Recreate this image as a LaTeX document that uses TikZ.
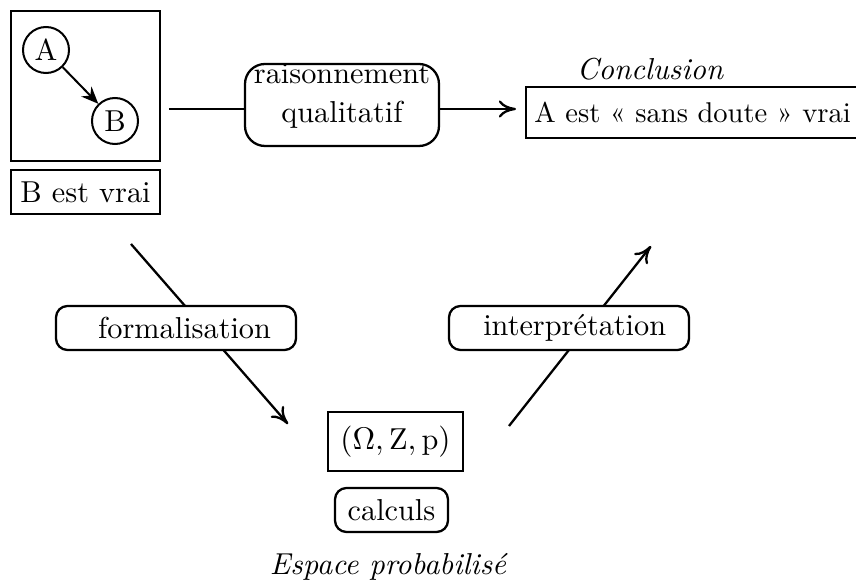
\documentclass[tikz,border=0pt]{standalone}
\usepackage{fontspec}
\usetikzlibrary{arrows.meta}
\pgfdeclarelayer{back}
\pgfsetlayers{back,main}
\def\u{0.35pt}
\tikzset{
  frame/.style={draw, line width=0.8pt, inner sep=0pt, fill=white},
  roundbox/.style={draw, line width=0.8pt, rounded corners=4pt, inner sep=0pt, fill=white},
  vertex/.style={circle, draw, line width=0.7pt, minimum size=46*\u, inner sep=0pt},
  link/.style={line width=0.8pt},
  flow/.style={line width=0.8pt, -{Computer Modern Rightarrow[length=6pt,width=6pt]}},
  caption/.style={inner sep=0pt, font=\itshape},
}
\begin{document}
\fontsize{10.6}{12.8}\selectfont
\begin{tikzpicture}[x=\u, y=-\u]
  \useasboundingbox (0,0) rectangle (856,583);

  % hypothesis: small graph A -> B and the observed fact
  \node[frame, minimum width=149*\u, minimum height=150*\u] (graph) at (85.5,86) {};
  \node[vertex] (A) at (46,50) {A};
  \node[vertex] (B) at (115,121) {B};
  \draw[line width=0.7pt, -{Stealth[length=6pt,width=5pt,inset=2pt]}] (A) -- (B);
  \node[frame, minimum width=149*\u, minimum height=44*\u] (fact) at (85.5,192) {B est vrai};

  % qualitative reasoning
  \node[roundbox, rounded corners=7pt, minimum width=194*\u, minimum height=82*\u] (reason) at (342,105) {};
  \node[inner sep=0pt, align=center] (reasontext) at (342,96) {raisonnement\\[1pt]qualitatif};

  % conclusion
  \node[caption] (conclabel) at (650,69) {Conclusion};
  \node[frame, minimum width=333*\u, minimum height=51*\u, anchor=west,
        font=\fontsize{10}{12}\selectfont] (concl) at (525,112.5)
    {A est « sans doute » vrai};

  % probabilistic route
  \node[roundbox, minimum width=240*\u, minimum height=44*\u] (formal) at (176,328)
    {\hspace*{6pt}formalisation};
  \node[roundbox, minimum width=240*\u, minimum height=44*\u] (interp) at (569,328)
    {\hspace*{4pt}interprétation};
  \node[frame, minimum width=135*\u, minimum height=59*\u] (space) at (395.5,441.5)
    {$(\Omega, \mathrm{Z}, \mathrm{p})$};
  \node[roundbox, minimum width=113*\u, minimum height=44*\u] (calc) at (391.5,510) {calculs};
  \node[caption] (spacelabel) at (388,567) {Espace probabilisé};

  % free ends of the connectors
  \coordinate (r0) at (169,109);
  \coordinate (r1) at (516,109);
  \coordinate (f0) at (131,244);
  \coordinate (f1) at (288,424);
  \coordinate (i0) at (509,426);
  \coordinate (i1) at (651,246);

  \begin{pgfonlayer}{back}
    \draw[link] (r0) -- (reason.west |- r0);
    \draw[flow] (reason.east |- r0) -- (r1);
    \draw[flow] (f0) -- (f1);
    \draw[flow] (i0) -- (i1);
  \end{pgfonlayer}
\end{tikzpicture}
\end{document}
